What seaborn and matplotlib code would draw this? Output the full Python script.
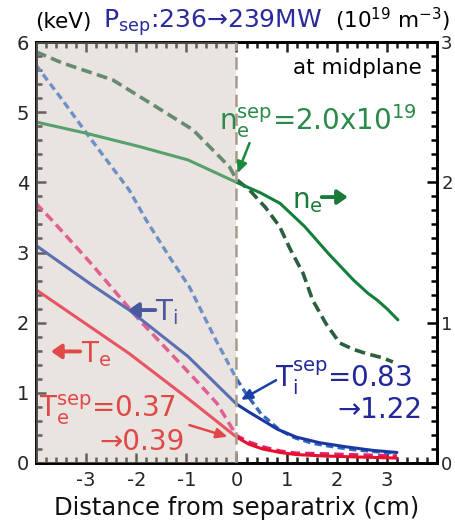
import matplotlib
matplotlib.use("Agg")
import matplotlib.pyplot as plt
import seaborn as sns
from matplotlib.ticker import MultipleLocator

# ---------------- data ----------------
# distance from separatrix (cm)
te_solid_x = [-4.0, -2.14, -0.97, 0.0, 0.24, 0.52, 0.87, 1.19, 1.75, 2.19, 2.72, 3.2]
te_solid = [2.47, 1.56, 0.92, 0.37, 0.27, 0.20, 0.15, 0.12, 0.10, 0.09, 0.08, 0.07]   # keV

te_dash_x = [-4.0, -3.68, -2.91, -1.94, -0.81, -0.39, 0.0, 0.24, 0.52, 0.87, 1.19, 1.75, 2.19, 2.72, 3.2]
te_dash = [3.70, 3.46, 2.85, 2.04, 1.18, 0.85, 0.39, 0.30, 0.23, 0.17, 0.14, 0.13, 0.12, 0.11, 0.10]

ti_solid_x = [-4.0, -2.91, -2.14, -0.97, 0.0, 0.24, 0.52, 0.82, 1.19, 1.65, 2.19, 2.72, 3.2]
ti_solid = [3.10, 2.55, 2.18, 1.52, 0.84, 0.73, 0.61, 0.48, 0.37, 0.29, 0.23, 0.18, 0.15]

ti_dash_x = [-4.0, -3.49, -2.94, -2.52, -2.14, -1.80, -1.34, -0.94, -0.41, 0.0, 0.19, 0.49, 0.86, 1.16, 1.52, 1.94, 2.33, 2.81, 3.2]
ti_dash = [5.67, 5.19, 4.65, 4.25, 3.89, 3.46, 2.94, 2.51, 1.75, 1.20, 0.99, 0.70, 0.47, 0.36, 0.28, 0.23, 0.19, 0.16, 0.14]

ne_solid_x = [-4.0, -3.0, -1.94, -0.97, 0.0, 0.48, 0.87, 1.36, 1.84, 2.33, 2.62, 2.81, 3.0, 3.22]
ne_solid = [2.43, 2.35, 2.255, 2.16, 2.0, 1.925, 1.85, 1.685, 1.49, 1.305, 1.21, 1.16, 1.10, 1.02]  # 1e19 m^-3

ne_dash_x = [-4.0, -3.47, -2.47, -1.61, -0.87, -0.14, 0.0, 0.26, 0.58, 0.86, 1.07, 1.33, 1.52, 1.79, 2.06, 2.33, 2.59, 2.91, 3.12]
ne_dash = [2.93, 2.85, 2.73, 2.54, 2.375, 2.11, 2.02, 1.945, 1.82, 1.685, 1.525, 1.35, 1.16, 0.99, 0.855, 0.81, 0.78, 0.75, 0.72]

x_ticks = [-3, -2, -1, 0, 1, 2, 3]
yl_ticks = [0, 1, 2, 3, 4, 5, 6]
yr_ticks = [0, 1, 2, 3]

# ---------------- style ----------------
sns.set_theme(style="ticks")
plt.rcParams["font.family"] = ["DejaVu Sans"]
plt.rcParams["mathtext.default"] = "regular"

SHADE = "#e9e4df"
C_NE = "#12803a"
C_NE_D = "#2a6040"
C_TI = "#1a38a0"
C_TI_D = "#3568bd"
C_TE = "#e8102a"
C_TE_D = "#e02070"

fig = plt.figure(figsize=(4.56, 5.22), dpi=100)
ax = fig.add_axes([36 / 456, 59 / 522, 401 / 456, 421 / 522])
ax.axvspan(-4.0, 0.0, color=SHADE, lw=0, zorder=0)

sns.lineplot(x=te_dash_x, y=te_dash, ax=ax, color=C_TE_D, lw=2.5,
             linestyle=(0, (2.7, 1.5)), zorder=2)
sns.lineplot(x=ti_dash_x, y=ti_dash, ax=ax, color=C_TI_D, lw=2.4,
             linestyle=(0, (2.2, 1.3)), zorder=2)
sns.lineplot(x=te_solid_x, y=te_solid, ax=ax, color=C_TE, lw=2.2, zorder=2)
sns.lineplot(x=ti_solid_x, y=ti_solid, ax=ax, color=C_TI, lw=2.2, zorder=2)

ax.set_xlim(-4, 4)
ax.set_ylim(0, 6)

ax2 = ax.twinx()
sns.lineplot(x=ne_dash_x, y=ne_dash, ax=ax2, color=C_NE_D, lw=2.6,
             linestyle=(0, (3.0, 1.5)), zorder=2)
sns.lineplot(x=ne_solid_x, y=ne_solid, ax=ax2, color=C_NE, lw=2.2, zorder=2)
ax2.set_ylim(0, 3)
ax2.set_xlim(-4, 4)

# translucent overlay that lightens everything inside the shaded zone
ax2.axvspan(-4.0, 0.0, color=SHADE, alpha=0.32, lw=0, zorder=3)
ax2.axvline(0, color="#a89a8c", lw=1.8, dashes=(5, 2.5), zorder=3.5)

# ---------------- axes cosmetics ----------------
for a in (ax, ax2):
    for s in a.spines.values():
        s.set_linewidth(1.9)
        s.set_color("black")
ax.spines["left"].set_color("#4a4040")

ax.set_xticks(x_ticks)
ax.set_xticklabels([str(v) for v in x_ticks])
ax.set_yticks(yl_ticks)
ax.set_yticklabels([str(v) for v in yl_ticks])
ax.xaxis.set_minor_locator(MultipleLocator(0.2))
ax.yaxis.set_minor_locator(MultipleLocator(0.2))
ax.tick_params(which="both", direction="in", top=True, bottom=True, left=True, right=False,
               width=1.8, color="#222222")
ax.tick_params(which="major", length=7, labelsize=14, pad=6)
ax.tick_params(which="minor", length=4)
ax.tick_params(axis="y", which="major", pad=5)

ax2.set_yticks(yr_ticks)
ax2.set_yticklabels([str(v) for v in yr_ticks])
ax2.yaxis.set_minor_locator(MultipleLocator(0.1))
ax2.tick_params(which="both", direction="in", right=True, width=1.8, color="black")
ax2.tick_params(which="major", length=7, labelsize=13, pad=3)
ax2.tick_params(which="minor", length=4)

ax.set_xlabel("Distance from separatrix (cm)", fontsize=17.5, labelpad=4, color="#111111")
ax.set_ylabel("")
ax2.set_ylabel("")

# ---------------- texts ----------------
T = ax.transData
ty = 1 - 28 / 522
fig.text(35 / 456, ty, "(keV)", fontsize=15.5, color="black", va="baseline")
fig.text(103 / 456, ty, r"$P_{sep}$:236→239MW", fontsize=18, color="#2a2a9a", va="baseline")
fig.text(335 / 456, ty, r"(10$^{19}$ m$^{-3}$)", fontsize=15.5, color="black", va="baseline")

ax2.text(3.70, 5.54, "at midplane", transform=T, fontsize=15.5, ha="right", va="baseline",
         color="black", zorder=6)

ax2.text(-0.34, 4.75, r"$n_e^{sep}$=2.0x10$^{19}$", transform=T, fontsize=20, ha="left",
         va="baseline", color="#2a8a4a", zorder=6)
ax2.annotate("", xy=(0.02, 4.13), xytext=(0.26, 4.56), xycoords=T, textcoords=T,
             arrowprops=dict(arrowstyle="-|>,head_length=0.55,head_width=0.25", lw=1.8,
                             color="#1a8a3a", shrinkA=0, shrinkB=0), zorder=6)

ax2.text(1.10, 3.63, r"$n_e$", transform=T, fontsize=20, ha="left", va="baseline",
         color="#1a7a3a", zorder=6)
ax2.annotate("", xy=(2.22, 3.79), xytext=(1.70, 3.79), xycoords=T, textcoords=T,
             arrowprops=dict(arrowstyle="-|>,head_length=0.5,head_width=0.35", lw=2.8,
                             color="#1a7a3a", shrinkA=0, shrinkB=0), zorder=6)

ax2.text(0.76, 1.08, r"$T_i^{sep}$=0.83", transform=T, fontsize=20, ha="left", va="baseline",
         color="#22289a", zorder=6)
ax2.text(3.70, 0.64, "→1.22", transform=T, fontsize=20, ha="right", va="baseline",
         color="#22289a", zorder=6)
ax2.annotate("", xy=(0.09, 0.90), xytext=(0.79, 1.18), xycoords=T, textcoords=T,
             arrowprops=dict(arrowstyle="-|>,head_length=0.55,head_width=0.25", lw=1.8,
                             color="#1a40a8", shrinkA=0, shrinkB=0), zorder=6)

ax2.text(-1.62, 2.04, r"$T_i$", transform=T, fontsize=20, ha="left", va="baseline",
         color="#4a58a0", zorder=6)
ax2.annotate("", xy=(-2.16, 2.18), xytext=(-1.62, 2.18), xycoords=T, textcoords=T,
             arrowprops=dict(arrowstyle="-|>,head_length=0.5,head_width=0.35", lw=2.8,
                             color="#4a58a0", shrinkA=0, shrinkB=0), zorder=6)

ax2.text(-3.10, 1.43, r"$T_e$", transform=T, fontsize=20, ha="left", va="baseline",
         color="#e04a4a", zorder=6)
ax2.annotate("", xy=(-3.70, 1.59), xytext=(-3.12, 1.59), xycoords=T, textcoords=T,
             arrowprops=dict(arrowstyle="-|>,head_length=0.5,head_width=0.35", lw=2.8,
                             color="#e04a4a", shrinkA=0, shrinkB=0), zorder=6)

ax2.text(-3.94, 0.655, r"$T_e^{sep}$=0.37", transform=T, fontsize=20, ha="left",
         va="baseline", color="#e04848", zorder=6)
ax2.text(-1.04, 0.185, "→0.39", transform=T, fontsize=20, ha="right", va="baseline",
         color="#e04848", zorder=6)
ax2.annotate("", xy=(-0.18, 0.375), xytext=(-0.94, 0.54), xycoords=T, textcoords=T,
             arrowprops=dict(arrowstyle="-|>,head_length=0.55,head_width=0.25", lw=1.8,
                             color="#e04848", shrinkA=0, shrinkB=0), zorder=6)

fig.savefig("out.png", dpi=100)
